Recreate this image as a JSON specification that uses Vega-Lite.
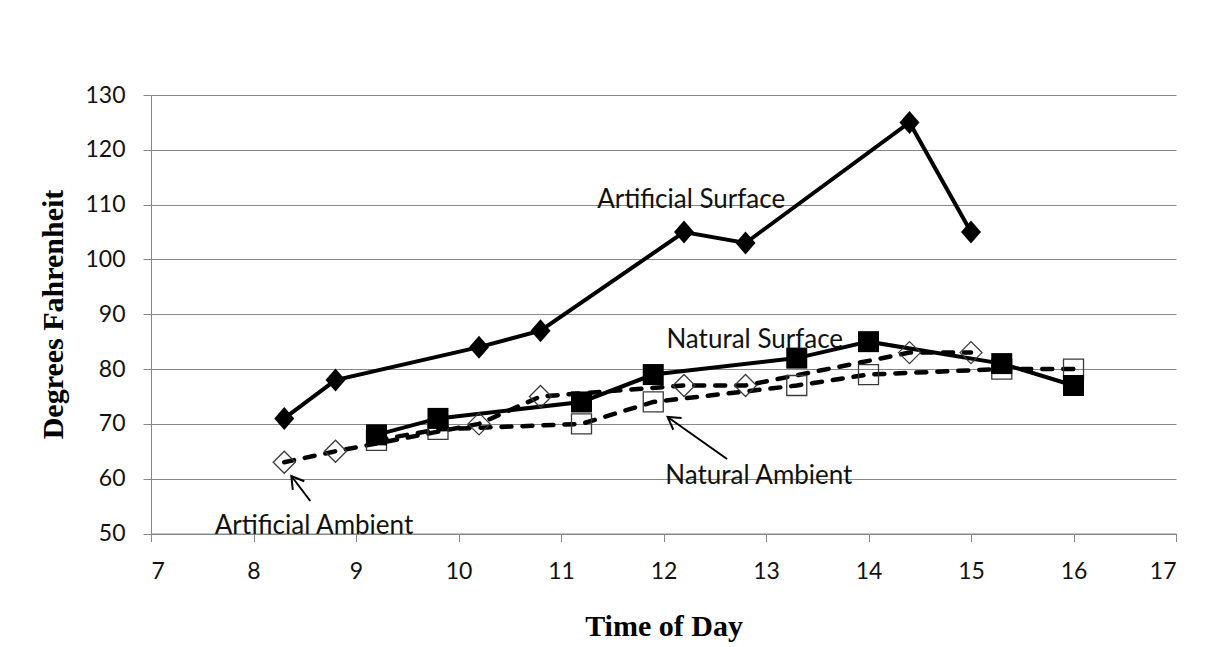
{
  "$schema": "https://vega.github.io/schema/vega-lite/v6.json",
  "width": 1025,
  "height": 438.5,
  "autosize": {"type": "none"},
  "padding": {"left": 151, "top": 95, "right": 35, "bottom": 113.5},
  "background": "white",
  "config": {"view": {"stroke": null}},
  "datasets": {
    "pts": [
      {"series": "Artificial Surface", "x": 8.3, "y": 71},
      {"series": "Artificial Surface", "x": 8.8, "y": 78},
      {"series": "Artificial Surface", "x": 10.2, "y": 84},
      {"series": "Artificial Surface", "x": 10.8, "y": 87},
      {"series": "Artificial Surface", "x": 12.2, "y": 105},
      {"series": "Artificial Surface", "x": 12.8, "y": 103},
      {"series": "Artificial Surface", "x": 14.4, "y": 125},
      {"series": "Artificial Surface", "x": 15.0, "y": 105},
      {"series": "Artificial Ambient", "x": 8.3, "y": 63},
      {"series": "Artificial Ambient", "x": 8.8, "y": 65},
      {"series": "Artificial Ambient", "x": 10.2, "y": 70},
      {"series": "Artificial Ambient", "x": 10.8, "y": 75},
      {"series": "Artificial Ambient", "x": 12.2, "y": 77},
      {"series": "Artificial Ambient", "x": 12.8, "y": 77},
      {"series": "Artificial Ambient", "x": 14.4, "y": 83},
      {"series": "Artificial Ambient", "x": 15.0, "y": 83},
      {"series": "Natural Surface", "x": 9.2, "y": 68},
      {"series": "Natural Surface", "x": 9.8, "y": 71},
      {"series": "Natural Surface", "x": 11.2, "y": 74},
      {"series": "Natural Surface", "x": 11.9, "y": 79},
      {"series": "Natural Surface", "x": 13.3, "y": 82},
      {"series": "Natural Surface", "x": 14.0, "y": 85},
      {"series": "Natural Surface", "x": 15.3, "y": 81},
      {"series": "Natural Surface", "x": 16.0, "y": 77},
      {"series": "Natural Ambient", "x": 9.2, "y": 67},
      {"series": "Natural Ambient", "x": 9.8, "y": 69},
      {"series": "Natural Ambient", "x": 11.2, "y": 70},
      {"series": "Natural Ambient", "x": 11.9, "y": 74},
      {"series": "Natural Ambient", "x": 13.3, "y": 77},
      {"series": "Natural Ambient", "x": 14.0, "y": 79},
      {"series": "Natural Ambient", "x": 15.3, "y": 80},
      {"series": "Natural Ambient", "x": 16.0, "y": 80}
    ],
    "labels": [
      {"label": "Artificial Surface", "x": 12.27, "y": 109.4},
      {"label": "Natural Surface", "x": 12.89, "y": 83.85},
      {"label": "Natural Ambient", "x": 12.93, "y": 59.0},
      {"label": "Artificial Ambient", "x": 8.59, "y": 49.9}
    ],
    "arrows": [
      {"arrow": "Artificial Ambient", "x": 8.554, "y": 55.93, "x2": 8.369, "y2": 60.49},
      {"arrow": "Natural Ambient", "x": 12.62, "y": 63.6, "x2": 12.04, "y2": 71.26}
    ]
  },
  "encoding": {
    "x": {
      "field": "x",
      "type": "quantitative",
      "scale": {"domain": [7, 17], "nice": false, "zero": false},
      "axis": {
        "values": [7, 8, 9, 10, 11, 12, 13, 14, 15, 16, 17],
        "title": "Time of Day",
        "grid": false,
        "tickSize": 8,
        "tickColor": "#868686",
        "domainColor": "#868686",
        "labelPadding": 19,
        "labelFont": "Lato",
        "labelFontSize": 23,
        "labelColor": "#111111",
        "titleFont": "Liberation Serif",
        "titleFontSize": 30,
        "titleFontWeight": "bold",
        "titleColor": "#000000",
        "titleX": 512.5,
        "titleY": 101.5,
        "titleAlign": "center",
        "titleBaseline": "alphabetic"
      }
    },
    "y": {
      "field": "y",
      "type": "quantitative",
      "scale": {"domain": [50, 130], "nice": false, "zero": false},
      "axis": {
        "values": [50, 60, 70, 80, 90, 100, 110, 120, 130],
        "title": "Degrees Fahrenheit",
        "grid": true,
        "gridColor": "#868686",
        "gridWidth": 1,
        "tickSize": 8,
        "tickColor": "#868686",
        "domainColor": "#868686",
        "labelPadding": 18,
        "labelFont": "Lato",
        "labelFontSize": 23,
        "labelColor": "#111111",
        "titleFont": "Liberation Serif",
        "titleFontSize": 30,
        "titleFontWeight": "bold",
        "titleColor": "#000000",
        "titleAngle": -90,
        "titleX": -89,
        "titleY": 219,
        "titleAlign": "center",
        "titleBaseline": "alphabetic"
      }
    }
  },
  "layer": [
    {
      "data": {"name": "pts"},
      "transform": [{"filter": "datum.series === 'Artificial Ambient' || datum.series === 'Natural Ambient'"}],
      "mark": {"type": "line", "color": "#000000", "strokeWidth": 4.5, "strokeDash": [10, 11], "strokeCap": "round"},
      "encoding": {"detail": {"field": "series"}}
    },
    {
      "data": {"name": "pts"},
      "transform": [{"filter": "datum.series === 'Artificial Surface' || datum.series === 'Natural Surface'"}],
      "mark": {"type": "line", "color": "#000000", "strokeWidth": 4},
      "encoding": {"detail": {"field": "series"}}
    },
    {
      "data": {"name": "pts"},
      "transform": [{"filter": "datum.series === 'Artificial Ambient'"}],
      "mark": {"type": "point", "shape": "M-1,0L0,-1L1,0L0,1Z", "size": 484, "filled": false, "fill": null, "stroke": "#3a3a3a", "strokeWidth": 1.3, "opacity": 1}
    },
    {
      "data": {"name": "pts"},
      "transform": [{"filter": "datum.series === 'Natural Ambient'"}],
      "mark": {"type": "point", "shape": "square", "size": 400, "filled": false, "fill": null, "stroke": "#3a3a3a", "strokeWidth": 1.3, "opacity": 1}
    },
    {
      "data": {"name": "pts"},
      "transform": [{"filter": "datum.series === 'Artificial Surface'"}],
      "mark": {"type": "point", "shape": "M-0.87,0L0,-1L0.87,0L0,1Z", "size": 529, "filled": true, "color": "#000000", "opacity": 1}
    },
    {
      "data": {"name": "pts"},
      "transform": [{"filter": "datum.series === 'Natural Surface'"}],
      "mark": {"type": "point", "shape": "square", "size": 441, "filled": true, "color": "#000000", "opacity": 1}
    },
    {
      "data": {"name": "labels"},
      "mark": {"type": "text", "font": "Lato", "fontSize": 26, "color": "#111111", "align": "center", "baseline": "alphabetic"},
      "encoding": {"text": {"field": "label"}}
    },
    {
      "data": {"name": "arrows"},
      "mark": {"type": "rule", "color": "#000000", "strokeWidth": 2},
      "encoding": {"x2": {"field": "x2"}, "y2": {"field": "y2"}}
    },
    {
      "data": {"name": "arrows"},
      "transform": [{"filter": "datum.arrow === 'Artificial Ambient'"}],
      "mark": {"type": "point", "shape": "M-0.6,1L0,0L0.6,1", "size": 576, "filled": false, "fill": null, "stroke": "#000000", "strokeWidth": 2, "angle": 323, "opacity": 1},
      "encoding": {"x": {"field": "x2", "type": "quantitative"}, "y": {"field": "y2", "type": "quantitative"}}
    },
    {
      "data": {"name": "arrows"},
      "transform": [{"filter": "datum.arrow === 'Natural Ambient'"}],
      "mark": {"type": "point", "shape": "M-0.6,1L0,0L0.6,1", "size": 576, "filled": false, "fill": null, "stroke": "#000000", "strokeWidth": 2, "angle": 305, "opacity": 1},
      "encoding": {"x": {"field": "x2", "type": "quantitative"}, "y": {"field": "y2", "type": "quantitative"}}
    }
  ]
}
